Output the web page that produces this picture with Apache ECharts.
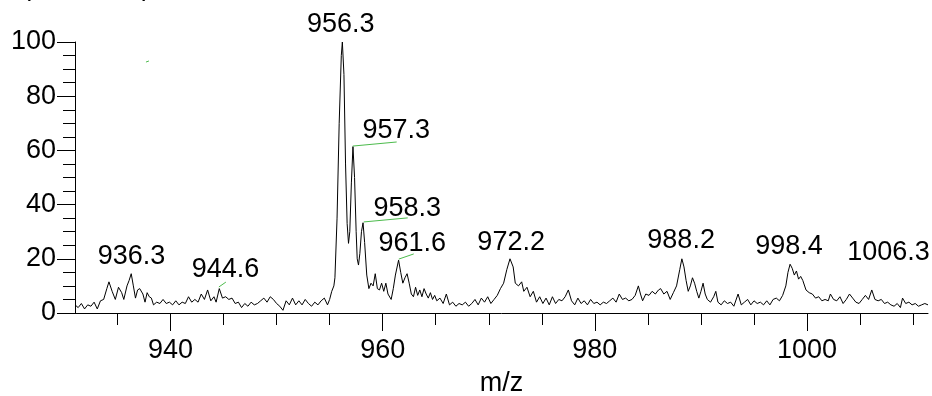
<!DOCTYPE html>
<html>
<head>
<meta charset="utf-8">
<script src="https://cdn.jsdelivr.net/npm/echarts@6/dist/echarts.min.js"></script>
<style>
html,body{margin:0;padding:0;background:#fff;}
#chart{width:932px;height:396px;}
</style>
</head>
<body>
<div id="chart"></div>
<script>
// m/z values and relative intensities
var mz = [
931.0,931.3,931.6,931.9,932.2,932.5,932.8,933.1,933.4,933.7,934.0,934.2,934.5,934.8,935.1,935.4,935.6,935.9,936.1,936.3,936.5,936.7,936.9,937.1,937.4,937.6,937.8,938.0,938.2,938.4,938.7,939.0,939.3,939.6,939.9,
940.2,940.5,940.8,941.1,941.4,941.7,942.0,942.3,942.6,942.9,943.2,943.5,943.8,944.1,944.3,944.6,944.9,945.2,945.5,945.8,946.1,
946.4,946.7,947.0,947.3,947.6,947.9,948.2,948.5,948.8,949.1,949.4,949.7,950.0,950.3,950.6,950.9,951.2,951.5,951.8,952.1,952.4,952.7,953.0,953.3,953.6,953.9,954.2,954.5,954.8,
955.0,955.2,955.4,955.5,955.7,955.9,956.1,956.2,956.35,956.5,956.65,956.78,956.9,957.05,957.2,957.35,957.5,957.6,957.72,957.85,958.0,958.15,958.3,958.5,
958.7,958.9,959.1,959.3,959.5,959.7,959.9,960.1,960.3,960.5,960.8,961.0,961.2,961.5,961.7,961.9,962.1,962.3,962.5,962.7,962.9,963.1,963.3,963.5,963.7,963.9,964.1,964.3,964.5,964.7,964.9,965.1,965.4,965.7,966.0,966.3,966.6,966.9,967.2,967.5,967.8,968.1,968.4,968.7,969.0,969.3,969.6,969.9,970.2,970.5,970.8,971.1,971.4,971.7,972.0,972.3,972.5,972.8,973.1,973.3,973.6,973.9,974.2,974.5,974.8,975.1,975.4,975.7,976.0,976.3,976.6,976.9,977.2,977.5,977.8,978.1,
978.4,978.7,979.0,979.3,979.6,979.9,980.2,980.5,980.8,981.1,981.4,981.7,982.0,982.3,982.6,982.9,983.2,983.5,983.8,984.1,984.3,984.5,984.8,985.1,985.4,985.7,986.0,986.2,986.5,986.8,987.1,987.4,987.7,988.0,988.2,988.4,988.6,988.8,989.0,989.2,989.4,989.6,989.8,990.0,990.2,990.4,990.6,990.9,991.2,991.4,991.6,991.9,992.2,992.5,992.8,993.1,993.5,993.8,
994.1,994.4,994.7,995.0,995.3,995.6,995.9,996.2,996.5,996.8,997.1,997.4,997.7,998.0,998.2,998.4,998.6,998.8,999.0,999.2,999.4,999.6,999.9,1000.2,1000.5,1000.8,1001.1,1001.4,1001.7,1002.0,1002.2,1002.5,1002.8,1003.1,1003.4,1003.7,1004.0,1004.3,1004.6,1004.9,1005.2,1005.5,1005.8,1006.1,1006.4,1006.7,1007.0,1007.3,1007.6,1007.9,1008.2,1008.5,1008.8,1009.0,1009.3,1009.6,1009.9,1010.2,1010.5,1010.8,1011.1,1011.4
];
var intensity = [
3,2,3.5,1.5,3,2.5,4,1.5,4.5,5,9,11.5,8,5,9.5,7.5,5,10,12,14.5,10,5.5,8.5,9,7,4,7.5,6,5.5,3,4,3.5,5,3.5,4,
3,4.5,3,4,3.5,6,4,5,4,7,5,8.5,4.5,6,4,9,5.5,6,5,5.5,3.5,
4,2,3.5,2.5,4,3,3.5,4.5,5.5,4,6,5,3.5,2.5,1,4.5,3,5.5,3,4.5,3,5,3.5,2.5,4,3,4.5,5.5,3,
5,8,10,13,35,70,95,100,88,55,33,25.7,30,48,61.4,50,30,20,17.7,22,30,33.3,26,14,
9,11,10,14.5,9,8.5,11,8,11,7,5,9,14,19.5,15,11,13,14.5,11,7,6,9.5,6.5,8.5,6,9,7,5.5,7.5,5,6.5,4.5,5.5,3.5,7,3,4,2.5,3.5,3,4,2.5,3.5,5,3,5.5,4,6,3.5,5,6.5,9,11,16,20,17,11,10,11.5,8,9.5,6,8,4,6,3.5,5.5,3,6,3.5,5,4.5,6,8.5,4.5,3,
5.5,3.5,4.5,3,5,3.5,4,3,4,3.5,4.5,5.5,4,7,5,5.5,4.5,5,6.5,10,7,4.5,7,6.5,8,7,8.5,9,7,8,5,7.5,10,16,20,17,12,8,10,13,11,8,5.5,8,11,7,5,4,6,8,4,3,4.5,3.5,4,2.5,7,3,
4,5,3,4.5,3.5,4,3,4.5,3,5,5.5,4.5,6.5,10,15,18,16.5,14,15.5,12.5,13.5,12,8.5,7.5,7,5.5,6,4.5,5,4.5,7,5,4.5,6,3.5,5,7,5.5,4,3.5,5,6.5,5,8.5,5,4.5,5,3.5,4,3,2.5,3.5,2,5.5,3.5,4,3,3.5,2.5,3,3.5,3
];

// peak annotations
var peakLabels = ['936.3','944.6','956.3','957.3','958.3','961.6','972.2','988.2','998.4','1006.3'];
var labelMz    = [936.32, 945.18, 956.05, 961.28, 962.32, 962.79, 972.11, 988.13, 998.3, 1007.67];
var labelY     = [20.8, 15.9, 106.3, 67.5, 38.7, 25.8, 26.0, 26.9, 24.5, 22.3];

// green leader lines: start (peak) and end (label) points
var leaderFromMz = [957.18, 958.22, 961.52, 944.56, 937.69];
var leaderFromY  = [61.6, 33.6, 19.9, 9.6, 92.6];
var leaderToMz   = [961.32, 962.36, 962.93, 945.22, 937.97];
var leaderToY    = [63.1, 35.1, 21.8, 11.4, 93.0];

// tick labels
var xMajorTicks = [940, 960, 980, 1000];
var xMinorTicks = [935, 945, 950, 955, 965, 970, 975, 985, 990, 995, 1005, 1010];

var FONT = '"Liberation Sans", Arial, sans-serif';

var spectrum = mz.map(function (m, i) { return [m, intensity[i]]; });
var labelData = peakLabels.map(function (t, i) { return { name: t, value: [labelMz[i], labelY[i]] }; });
var leaderData = leaderFromMz.map(function (m, i) {
  return { coords: [[m, leaderFromY[i]], [leaderToMz[i], leaderToY[i]]] };
});

var chart = echarts.init(document.getElementById('chart'), null, { renderer: 'canvas' });
var gridTop = 42, gridBottom = 83;
chart.setOption({
  animation: false,
  backgroundColor: '#fff',
  graphic: [{
    type: 'text', left: 22, top: -26,
    style: { text: '(arb. units)', font: '27px ' + FONT, fill: '#000' }
  }],
  grid: { left: 75, right: 4, top: gridTop, bottom: gridBottom, containLabel: false, outerBoundsMode: 'none' },
  xAxis: [{
    type: 'value', min: 931, max: 1011.4,
    splitLine: { show: false },
    axisLine: { show: true, lineStyle: { color: '#000', width: 1 } },
    axisTick: { show: true, inside: false, length: 18, customValues: xMajorTicks, lineStyle: { color: '#000', width: 1 } },
    axisLabel: { customValues: xMajorTicks, fontSize: 27, fontFamily: FONT, color: '#000', margin: 24,
      formatter: function (v) { return String(v); } },
    name: 'm/z', nameLocation: 'middle', nameGap: 57,
    nameTextStyle: { fontSize: 27, fontFamily: FONT, color: '#000' }
  }, {
    type: 'value', min: 931, max: 1011.4, position: 'top',
    offset: -(396 - gridTop - gridBottom),
    splitLine: { show: false },
    axisLine: { show: false },
    axisTick: { show: true, inside: true, length: 12, customValues: xMinorTicks, lineStyle: { color: '#000', width: 1 } },
    axisLabel: { show: false }
  }],
  yAxis: {
    type: 'value', min: 0, max: 100, interval: 20,
    splitLine: { show: false },
    axisLine: { show: true, lineStyle: { color: '#000', width: 1 } },
    axisTick: { show: true, inside: false, length: 18, lineStyle: { color: '#000', width: 1 } },
    minorTick: { show: true, splitNumber: 4, length: 12, lineStyle: { color: '#000', width: 1 } },
    axisLabel: { fontSize: 27, fontFamily: FONT, color: '#000', margin: 19 }
  },
  series: [{
    type: 'line', data: spectrum, showSymbol: false, symbol: 'none',
    lineStyle: { color: '#000', width: 1 }, clip: false, z: 3
  }, {
    type: 'lines', coordinateSystem: 'cartesian2d', data: leaderData,
    lineStyle: { color: '#4cbb4c', width: 1, opacity: 1 }, z: 4
  }, {
    type: 'scatter', data: labelData, symbolSize: 0, clip: false, z: 5,
    itemStyle: { opacity: 1, color: '#000' },
    label: {
      show: true, position: 'inside', formatter: function (p) { return p.name; },
      fontSize: 27, fontFamily: FONT, color: '#000', opacity: 1,
      textBorderWidth: 0, textBorderColor: 'transparent'
    }
  }]
});
</script>
</body>
</html>
